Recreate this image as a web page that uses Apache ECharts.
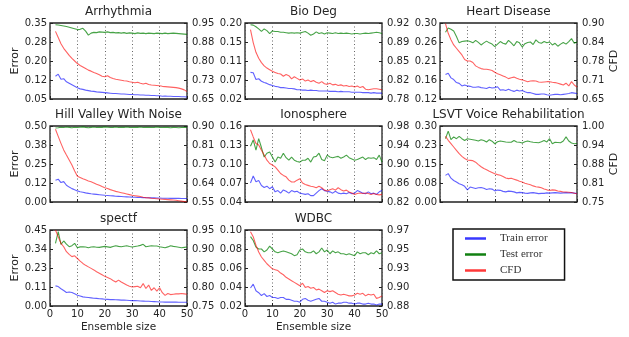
<!DOCTYPE html>
<html><head><meta charset="utf-8">
<script src="https://cdn.jsdelivr.net/npm/echarts@6/dist/echarts.min.js"></script>
<style>html,body{margin:0;padding:0;background:#fff}#c{width:629px;height:337px}</style>
</head><body><div id="c"></div>
<script>
const ensembleSizes = [2,3,4,5,6,7,8,9,10,11,12,13,14,15,16,17,18,19,20,21,22,23,24,25,26,27,28,29,30,31,32,33,34,35,36,37,38,39,40,41,42,43,44,45,46,47,48,49,50];
const xTickLabels = ['0','10','20','30','40','50'];

// Arrhythmia
const arrhythmiaTrain = [0.140,0.148,0.128,0.130,0.118,0.112,0.106,0.100,0.094,0.090,0.088,0.085,0.083,0.081,0.080,0.078,0.077,0.076,0.075,0.074,0.073,0.072,0.072,0.071,0.070,0.070,0.069,0.068,0.068,0.067,0.067,0.066,0.066,0.065,0.065,0.064,0.064,0.063,0.063,0.061,0.062,0.061,0.061,0.060,0.060,0.060,0.059,0.059,0.058];
const arrhythmiaTest = [0.343,0.342,0.340,0.338,0.336,0.333,0.330,0.327,0.324,0.325,0.329,0.318,0.302,0.310,0.313,0.312,0.315,0.314,0.313,0.315,0.312,0.313,0.311,0.312,0.310,0.312,0.309,0.311,0.310,0.308,0.311,0.309,0.310,0.308,0.310,0.309,0.308,0.310,0.309,0.308,0.310,0.308,0.309,0.310,0.309,0.308,0.307,0.306,0.305];
const arrhythmiaCFD = [0.917,0.893,0.868,0.850,0.836,0.822,0.810,0.800,0.790,0.782,0.776,0.770,0.764,0.760,0.755,0.751,0.746,0.740,0.738,0.742,0.735,0.731,0.728,0.726,0.724,0.722,0.721,0.718,0.716,0.714,0.716,0.712,0.709,0.712,0.707,0.705,0.704,0.703,0.702,0.700,0.699,0.698,0.697,0.696,0.695,0.693,0.690,0.686,0.680];
const arrhythmiaErrTicks = ['0.05','0.12','0.20','0.28','0.35'];
const arrhythmiaCfdTicks = ['0.65','0.73','0.80','0.88','0.95'];

// Bio Deg
const bioDegTrain = [0.083,0.082,0.066,0.068,0.062,0.059,0.057,0.054,0.052,0.050,0.049,0.047,0.047,0.046,0.045,0.045,0.044,0.042,0.042,0.041,0.041,0.040,0.041,0.040,0.040,0.039,0.039,0.039,0.039,0.038,0.038,0.038,0.037,0.038,0.037,0.037,0.037,0.036,0.036,0.036,0.036,0.035,0.035,0.035,0.034,0.035,0.034,0.034,0.034];
const bioDegTest = [0.196,0.195,0.191,0.186,0.180,0.186,0.182,0.175,0.181,0.180,0.180,0.178,0.178,0.177,0.176,0.177,0.176,0.177,0.176,0.178,0.180,0.176,0.171,0.174,0.179,0.175,0.177,0.174,0.177,0.176,0.175,0.177,0.175,0.176,0.175,0.176,0.175,0.174,0.175,0.175,0.174,0.175,0.176,0.175,0.176,0.177,0.178,0.177,0.175];
const bioDegCFD = [0.908,0.884,0.866,0.855,0.847,0.841,0.837,0.834,0.831,0.829,0.827,0.826,0.822,0.825,0.823,0.817,0.821,0.818,0.815,0.817,0.813,0.815,0.812,0.814,0.811,0.809,0.812,0.808,0.807,0.809,0.806,0.807,0.805,0.806,0.804,0.805,0.803,0.804,0.802,0.804,0.801,0.803,0.798,0.797,0.798,0.799,0.799,0.798,0.797];
const bioDegErrTicks = ['0.02','0.07','0.11','0.15','0.20'];
const bioDegCfdTicks = ['0.78','0.82','0.85','0.89','0.92'];

// Heart Disease
const heartTrain = [0.178,0.181,0.170,0.166,0.159,0.157,0.151,0.153,0.151,0.150,0.148,0.148,0.149,0.147,0.146,0.145,0.148,0.146,0.147,0.149,0.141,0.142,0.140,0.143,0.140,0.138,0.141,0.139,0.140,0.137,0.135,0.135,0.133,0.131,0.131,0.132,0.132,0.130,0.129,0.130,0.131,0.131,0.130,0.131,0.132,0.133,0.135,0.134,0.133];
const heartTest = [0.278,0.288,0.285,0.281,0.268,0.253,0.256,0.257,0.258,0.256,0.253,0.259,0.254,0.248,0.253,0.257,0.253,0.250,0.244,0.250,0.256,0.252,0.250,0.259,0.253,0.246,0.256,0.253,0.243,0.251,0.254,0.255,0.249,0.260,0.254,0.252,0.256,0.253,0.255,0.248,0.252,0.245,0.250,0.254,0.250,0.256,0.263,0.252,0.255];
const heartCFD = [0.898,0.866,0.845,0.828,0.817,0.806,0.795,0.780,0.775,0.775,0.770,0.759,0.754,0.750,0.748,0.748,0.746,0.744,0.738,0.733,0.730,0.726,0.722,0.717,0.720,0.722,0.718,0.715,0.713,0.710,0.707,0.709,0.710,0.709,0.706,0.705,0.706,0.707,0.707,0.705,0.704,0.702,0.699,0.696,0.702,0.693,0.707,0.696,0.689];
const heartErrTicks = ['0.12','0.16','0.21','0.26','0.30'];
const heartCfdTicks = ['0.65','0.71','0.78','0.84','0.90'];

// Hill Valley With Noise
const hillTrain = [0.143,0.150,0.128,0.134,0.110,0.098,0.088,0.080,0.073,0.068,0.064,0.060,0.057,0.054,0.052,0.050,0.048,0.046,0.044,0.043,0.041,0.040,0.038,0.037,0.036,0.035,0.034,0.033,0.032,0.031,0.030,0.030,0.029,0.028,0.028,0.027,0.027,0.026,0.026,0.025,0.025,0.025,0.024,0.024,0.024,0.024,0.023,0.023,0.023];
const hillTest = [0.487,0.489,0.492,0.490,0.493,0.491,0.489,0.492,0.490,0.492,0.494,0.491,0.489,0.491,0.493,0.490,0.492,0.491,0.494,0.492,0.490,0.491,0.493,0.490,0.492,0.491,0.493,0.491,0.490,0.492,0.491,0.493,0.490,0.491,0.492,0.490,0.491,0.493,0.491,0.490,0.492,0.491,0.489,0.491,0.490,0.488,0.490,0.491,0.490];
const hillCFD = [0.885,0.852,0.820,0.790,0.766,0.743,0.720,0.693,0.669,0.663,0.657,0.652,0.647,0.643,0.638,0.632,0.627,0.621,0.616,0.612,0.607,0.603,0.599,0.596,0.593,0.590,0.587,0.584,0.581,0.579,0.577,0.575,0.572,0.570,0.569,0.567,0.566,0.565,0.564,0.563,0.562,0.561,0.560,0.559,0.558,0.556,0.554,0.552,0.550];
const hillErrTicks = ['0.00','0.12','0.25','0.38','0.50'];
const hillCfdTicks = ['0.55','0.64','0.73','0.81','0.90'];

// Ionosphere
const ionoTrain = [0.070,0.081,0.072,0.074,0.066,0.063,0.065,0.061,0.064,0.056,0.058,0.054,0.059,0.057,0.054,0.058,0.056,0.057,0.054,0.053,0.052,0.053,0.050,0.050,0.054,0.058,0.061,0.058,0.057,0.056,0.054,0.057,0.054,0.053,0.054,0.053,0.055,0.053,0.054,0.058,0.056,0.054,0.053,0.056,0.053,0.054,0.052,0.056,0.058];
const ionoTest = [0.128,0.138,0.122,0.140,0.126,0.111,0.117,0.119,0.111,0.103,0.111,0.109,0.117,0.110,0.106,0.111,0.106,0.104,0.103,0.106,0.106,0.109,0.103,0.111,0.112,0.117,0.107,0.105,0.114,0.111,0.110,0.111,0.112,0.109,0.111,0.114,0.110,0.108,0.106,0.107,0.109,0.111,0.107,0.110,0.109,0.110,0.107,0.114,0.103];
const ionoCFD = [0.972,0.957,0.943,0.940,0.929,0.919,0.908,0.901,0.898,0.894,0.887,0.880,0.876,0.873,0.866,0.862,0.862,0.866,0.869,0.860,0.857,0.855,0.853,0.852,0.850,0.853,0.850,0.845,0.843,0.846,0.848,0.845,0.850,0.846,0.843,0.845,0.841,0.839,0.836,0.838,0.839,0.838,0.839,0.838,0.836,0.838,0.836,0.835,0.836];
const ionoErrTicks = ['0.04','0.07','0.10','0.13','0.16'];
const ionoCfdTicks = ['0.82','0.86','0.90','0.94','0.98'];

// LSVT Voice Rehabilitation
const lsvtTrain = [0.105,0.112,0.094,0.085,0.079,0.072,0.068,0.062,0.048,0.059,0.056,0.053,0.056,0.057,0.054,0.049,0.052,0.051,0.044,0.047,0.046,0.042,0.040,0.043,0.042,0.040,0.036,0.038,0.037,0.035,0.034,0.036,0.037,0.035,0.033,0.034,0.034,0.036,0.035,0.036,0.037,0.036,0.035,0.036,0.037,0.036,0.037,0.035,0.033];
const lsvtTest = [0.250,0.280,0.246,0.257,0.250,0.259,0.250,0.243,0.250,0.248,0.246,0.244,0.241,0.246,0.243,0.237,0.246,0.240,0.230,0.238,0.241,0.239,0.237,0.236,0.236,0.243,0.237,0.236,0.233,0.238,0.241,0.238,0.236,0.235,0.234,0.238,0.243,0.237,0.250,0.230,0.236,0.235,0.234,0.241,0.257,0.241,0.233,0.230,0.231];
const lsvtCFD = [0.966,0.953,0.942,0.931,0.920,0.909,0.900,0.893,0.888,0.887,0.886,0.881,0.873,0.866,0.860,0.856,0.851,0.847,0.843,0.840,0.838,0.834,0.829,0.827,0.828,0.825,0.822,0.818,0.816,0.812,0.809,0.807,0.803,0.800,0.799,0.797,0.793,0.790,0.788,0.790,0.789,0.786,0.785,0.783,0.783,0.782,0.781,0.779,0.777];
const lsvtErrTicks = ['0.00','0.08','0.15','0.23','0.30'];
const lsvtCfdTicks = ['0.75','0.81','0.88','0.94','1.00'];

// spectf
const spectfTrain = [0.119,0.115,0.102,0.092,0.080,0.083,0.080,0.072,0.064,0.059,0.054,0.052,0.050,0.048,0.046,0.045,0.043,0.042,0.040,0.039,0.038,0.038,0.037,0.036,0.035,0.035,0.034,0.033,0.032,0.032,0.031,0.030,0.029,0.028,0.028,0.027,0.026,0.025,0.024,0.024,0.023,0.023,0.024,0.023,0.023,0.022,0.022,0.022,0.022];
const spectfTest = [0.371,0.440,0.365,0.385,0.366,0.351,0.357,0.371,0.345,0.350,0.351,0.349,0.345,0.349,0.351,0.348,0.347,0.350,0.353,0.350,0.347,0.352,0.357,0.353,0.351,0.354,0.357,0.352,0.349,0.352,0.355,0.359,0.365,0.351,0.354,0.357,0.355,0.355,0.351,0.348,0.345,0.350,0.357,0.353,0.351,0.348,0.345,0.347,0.349];
const spectfCFD = [0.950,0.932,0.915,0.906,0.893,0.886,0.880,0.882,0.875,0.868,0.862,0.857,0.853,0.849,0.845,0.840,0.836,0.832,0.828,0.825,0.822,0.817,0.813,0.818,0.813,0.809,0.805,0.802,0.800,0.801,0.802,0.798,0.809,0.796,0.805,0.791,0.798,0.789,0.798,0.785,0.778,0.783,0.780,0.781,0.782,0.782,0.783,0.782,0.781];
const spectfErrTicks = ['0.00','0.11','0.23','0.34','0.45'];
const spectfCfdTicks = ['0.75','0.80','0.85','0.90','0.95'];

// WDBC
const wdbcTrain = [0.039,0.043,0.036,0.034,0.031,0.033,0.030,0.031,0.029,0.029,0.028,0.029,0.029,0.027,0.027,0.026,0.025,0.025,0.024,0.027,0.028,0.026,0.025,0.026,0.027,0.028,0.025,0.025,0.024,0.023,0.024,0.022,0.023,0.023,0.024,0.024,0.023,0.023,0.022,0.023,0.023,0.022,0.022,0.023,0.022,0.022,0.021,0.022,0.022];
const wdbcTest = [0.093,0.089,0.082,0.080,0.080,0.077,0.079,0.083,0.080,0.077,0.076,0.077,0.078,0.077,0.076,0.075,0.073,0.074,0.079,0.080,0.077,0.076,0.076,0.078,0.075,0.077,0.081,0.077,0.079,0.075,0.078,0.076,0.077,0.075,0.075,0.074,0.075,0.074,0.073,0.077,0.075,0.076,0.076,0.074,0.076,0.075,0.078,0.075,0.076];
const wdbcCFD = [0.968,0.962,0.952,0.944,0.938,0.934,0.930,0.927,0.924,0.923,0.922,0.919,0.917,0.914,0.912,0.910,0.908,0.906,0.904,0.907,0.902,0.903,0.901,0.902,0.899,0.900,0.898,0.896,0.898,0.897,0.898,0.896,0.894,0.893,0.894,0.893,0.892,0.892,0.893,0.895,0.894,0.895,0.892,0.894,0.893,0.894,0.889,0.890,0.892];
const wdbcErrTicks = ['0.02','0.04','0.06','0.08','0.10'];
const wdbcCfdTicks = ['0.88','0.90','0.93','0.95','0.97'];

const panelTitles = ['Arrhythmia','Bio Deg','Heart Disease','Hill Valley With Noise','Ionosphere','LSVT Voice Rehabilitation','spectf','WDBC'];
const seriesNames = ['Train error','Test error','CFD'];

const panels = [
  [arrhythmiaTrain, arrhythmiaTest, arrhythmiaCFD, arrhythmiaErrTicks, arrhythmiaCfdTicks],
  [bioDegTrain, bioDegTest, bioDegCFD, bioDegErrTicks, bioDegCfdTicks],
  [heartTrain, heartTest, heartCFD, heartErrTicks, heartCfdTicks],
  [hillTrain, hillTest, hillCFD, hillErrTicks, hillCfdTicks],
  [ionoTrain, ionoTest, ionoCFD, ionoErrTicks, ionoCfdTicks],
  [lsvtTrain, lsvtTest, lsvtCFD, lsvtErrTicks, lsvtCfdTicks],
  [spectfTrain, spectfTest, spectfCFD, spectfErrTicks, spectfCfdTicks],
  [wdbcTrain, wdbcTest, wdbcCFD, wdbcErrTicks, wdbcCfdTicks]
];

// layout (style only)
const colLeft = [50, 245, 440];
const rowTop = [23, 126, 230];
const titleTop = [6, 109, 213];
const gw = 137, gh = 76;
const FONT = 'DejaVu Sans';
const TXT = '#262626';
const colors = ['rgba(0,0,255,0.62)', 'rgba(0,128,0,0.72)', 'rgba(255,0,0,0.62)'];
const legendColors = ['#3838ff', '#118011', '#ff3838'];

function yAxisFor(i, ticks, side, showName) {
  const mn = parseFloat(ticks[0]), mx = parseFloat(ticks[ticks.length - 1]);
  const step = (mx - mn) / (ticks.length - 1);
  const vals = ticks.map((t, k) => mn + k * step);
  return {
    type: 'value', gridIndex: i, position: side, min: mn, max: mx,
    name: showName ? (side === 'left' ? 'Error' : 'CFD') : '',
    nameLocation: 'middle', nameRotate: 90,
    nameGap: side === 'left' ? 29 : 31,
    nameTextStyle: { fontFamily: FONT, fontSize: 11, color: TXT },
    axisLine: { show: false },
    splitLine: { show: false },
    axisTick: { show: true, inside: true, length: 3, customValues: vals, lineStyle: { color: '#222' } },
    axisLabel: {
      show: true, customValues: vals, margin: side === 'left' ? 3 : 5,
      fontFamily: FONT, fontSize: 10, color: TXT,
      formatter: function (v) {
        let best = 0;
        vals.forEach((q, k) => { if (Math.abs(q - v) < Math.abs(vals[best] - v)) best = k; });
        return ticks[best];
      }
    }
  };
}

const grids = [], xAxes = [], yAxes = [], titles = [], series = [];
panels.forEach((p, i) => {
  const r = Math.floor(i / 3), c = i % 3;
  grids.push({ left: colLeft[c], top: rowTop[r], width: gw, height: gh, show: true,
    borderColor: '#222', borderWidth: 1.3, backgroundColor: 'transparent', containLabel: false });
  const bottom = r === 2;
  xAxes.push({
    type: 'value', gridIndex: i, min: 0, max: 50, interval: 10,
    name: bottom ? 'Ensemble size' : '', nameLocation: 'middle', nameGap: 16,
    nameTextStyle: { fontFamily: FONT, fontSize: 10.5, color: TXT },
    axisLine: { show: false },
    axisTick: { show: true, inside: true, length: 3, lineStyle: { color: '#222' } },
    splitLine: { show: true, lineStyle: { type: [1, 2.5], color: '#555', width: 0.9 } },
    axisLabel: { show: bottom, margin: 3, fontFamily: FONT, fontSize: 10, color: TXT,
      formatter: v => xTickLabels[Math.round(v / 10)] }
  });
  yAxes.push(yAxisFor(i, p[3], 'left', c === 0));
  yAxes.push(yAxisFor(i, p[4], 'right', c === 2));
  titles.push({ text: panelTitles[i], left: colLeft[c] + gw / 2, top: titleTop[r], textAlign: 'center', padding: 0,
    textStyle: { fontFamily: FONT, fontSize: 12, fontWeight: 'normal', color: TXT } });
  for (let s = 0; s < 3; s++) {
    series.push({
      type: 'line', name: seriesNames[s], xAxisIndex: i, yAxisIndex: s === 2 ? 2 * i + 1 : 2 * i,
      data: ensembleSizes.map((x, k) => [x, p[s][k]]),
      color: colors[s], symbol: 'none', showSymbol: false, clip: true,
      lineStyle: { width: 1.1, color: colors[s] }, z: 3
    });
  }
});

const chart = echarts.init(document.getElementById('c'), null, { renderer: 'canvas' });
chart.setOption({
  animation: false,
  backgroundColor: '#fff',
  title: titles,
  grid: grids,
  xAxis: xAxes,
  yAxis: yAxes,
  legend: {
    orient: 'vertical', left: 453, top: 229,
    padding: [4, 17, 4, 12], itemGap: 5, itemWidth: 21, itemHeight: 2.5,
    borderColor: '#111', borderWidth: 1.5, icon: 'rect',
    data: seriesNames.map((n, k) => ({ name: n, itemStyle: { color: legendColors[k] } })),
    formatter: n => '{a|' + n + '}',
    textStyle: { fontFamily: 'Liberation Serif', fontSize: 11, color: '#333',
      rich: { a: { fontFamily: 'Liberation Serif', fontSize: 11, color: '#333', padding: [0, 0, 0, 9] } } },
    selectedMode: false
  },
  series: series
});
</script>
</body></html>
